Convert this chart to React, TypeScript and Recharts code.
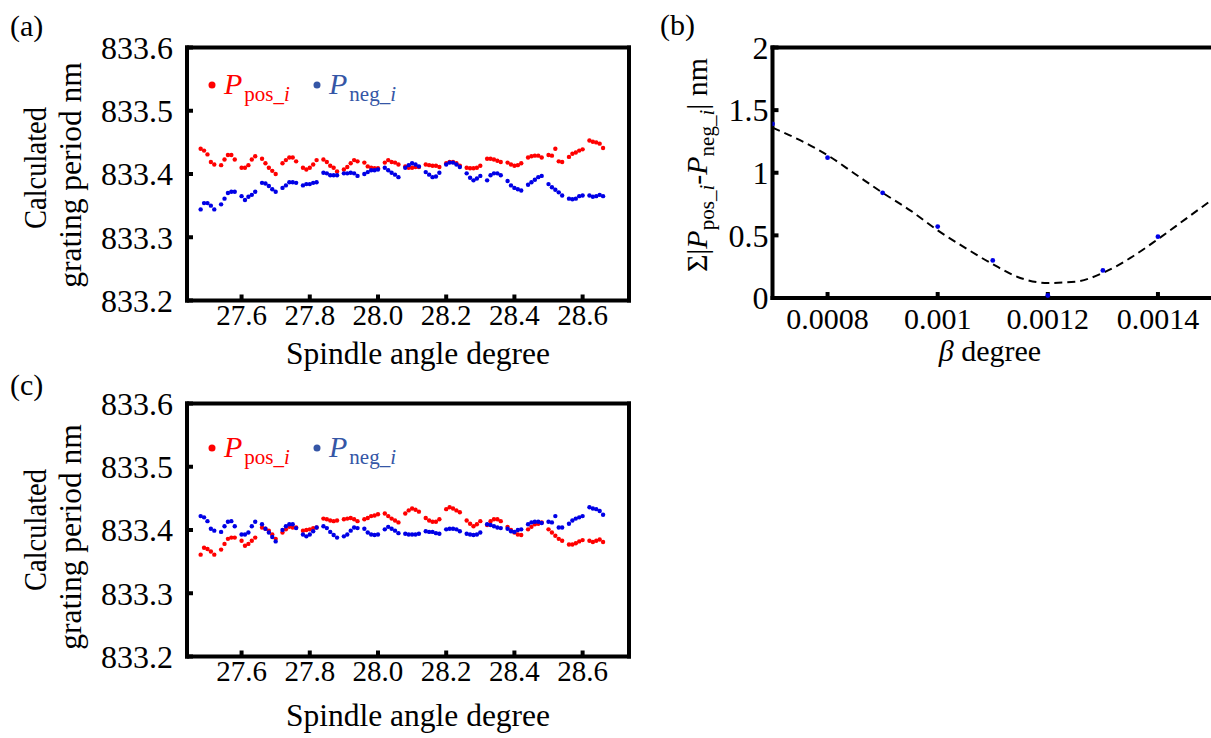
import {
  ScatterChart,
  ComposedChart,
  Scatter,
  Line,
  XAxis,
  YAxis,
} from 'recharts';

// spindle angle (deg), groups of five readings
const angles = [
  27.48, 27.49, 27.5, 27.51, 27.52, 27.54, 27.55, 27.56, 27.57, 27.58,
  27.6, 27.61, 27.62, 27.63, 27.64, 27.66, 27.67, 27.68, 27.69, 27.7,
  27.72, 27.73, 27.74, 27.75, 27.76, 27.78, 27.79, 27.8, 27.81, 27.82,
  27.84, 27.85, 27.86, 27.87, 27.88, 27.9, 27.91, 27.92, 27.93, 27.94,
  27.96, 27.97, 27.98, 27.99, 28.0, 28.02, 28.03, 28.04, 28.05, 28.06,
  28.08, 28.09, 28.1, 28.11, 28.12, 28.14, 28.15, 28.16, 28.17, 28.18,
  28.2, 28.21, 28.22, 28.23, 28.24, 28.26, 28.27, 28.28, 28.29, 28.3,
  28.32, 28.33, 28.34, 28.35, 28.36, 28.38, 28.39, 28.4, 28.41, 28.42,
  28.44, 28.45, 28.46, 28.47, 28.48, 28.5, 28.51, 28.52, 28.53, 28.54,
  28.56, 28.57, 28.58, 28.59, 28.6, 28.62, 28.63, 28.64, 28.65, 28.66,
];

// (a) before correction
const posA = [
  833.44, 833.437, 833.431, 833.419, 833.415, 833.414, 833.423, 833.43, 833.43, 833.423,
  833.41, 833.41, 833.414, 833.423, 833.428, 833.424, 833.417, 833.41, 833.405, 833.4,
  833.417, 833.422, 833.426, 833.426, 833.42, 833.41, 833.407, 833.41, 833.415, 833.422,
  833.423, 833.419, 833.413, 833.41, 833.404, 833.407, 833.411, 833.417, 833.422, 833.42,
  833.418, 833.412, 833.41, 833.409, 833.409, 833.418, 833.422, 833.419, 833.418, 833.415,
  833.412, 833.41, 833.41, 833.411, 833.411, 833.415, 833.414, 833.413, 833.413, 833.411,
  833.417, 833.419, 833.419, 833.417, 833.413, 833.41, 833.409, 833.409, 833.41, 833.413,
  833.424, 833.424, 833.423, 833.421, 833.419, 833.418, 833.415, 833.413, 833.414, 833.417,
  833.426, 833.428, 833.429, 833.429, 833.426, 833.43, 833.429, 833.44, 833.42, 833.419,
  833.427, 833.432, 833.434, 833.437, 833.439, 833.453, 833.451, 833.45, 833.448, 833.441,
];
const negA = [
  833.344, 833.354, 833.354, 833.35, 833.344, 833.352, 833.361, 833.37, 833.372, 833.372,
  833.365, 833.359, 833.364, 833.367, 833.372, 833.386, 833.385, 833.381, 833.376, 833.372,
  833.378, 833.382, 833.387, 833.387, 833.386, 833.382, 833.384, 833.384, 833.386, 833.387,
  833.402, 833.401, 833.398, 833.398, 833.398, 833.401, 833.401, 833.402, 833.401, 833.397,
  833.4, 833.403, 833.406, 833.406, 833.407, 833.41, 833.406, 833.402, 833.399, 833.395,
  833.41, 833.414, 833.417, 833.415, 833.412, 833.403, 833.399, 833.395, 833.396, 833.402,
  833.415, 833.418, 833.418, 833.415, 833.411, 833.401, 833.394, 833.39, 833.393, 833.397,
  833.39, 833.398, 833.401, 833.401, 833.398, 833.389, 833.382, 833.378, 833.376, 833.374,
  833.383, 833.387, 833.391, 833.395, 833.397, 833.384, 833.379, 833.375, 833.371, 833.366,
  833.361, 833.36, 833.361, 833.365, 833.366, 833.366, 833.364, 833.365, 833.367, 833.365,
];

// (c) after correction
const posC = [
  833.361, 833.372, 833.37, 833.366, 833.361, 833.369, 833.378, 833.386, 833.388, 833.388,
  833.383, 833.375, 833.378, 833.383, 833.388, 833.404, 833.402, 833.399, 833.393, 833.386,
  833.396, 833.401, 833.405, 833.404, 833.404, 833.399, 833.4, 833.401, 833.403, 833.404,
  833.418, 833.417, 833.415, 833.414, 833.415, 833.417, 833.418, 833.419, 833.417, 833.414,
  833.417, 833.419, 833.422, 833.423, 833.425, 833.426, 833.422, 833.418, 833.415, 833.412,
  833.426, 833.431, 833.434, 833.432, 833.429, 833.419, 833.415, 833.413, 833.413, 833.417,
  833.433, 833.436, 833.434, 833.431, 833.428, 833.415, 833.41, 833.406, 833.409, 833.414,
  833.408, 833.414, 833.417, 833.417, 833.414, 833.405, 833.4, 833.396, 833.393, 833.392,
  833.401, 833.405, 833.409, 833.41, 833.412, 833.401, 833.396, 833.391, 833.386, 833.383,
  833.377, 833.377, 833.379, 833.382, 833.384, 833.383, 833.381, 833.383, 833.385, 833.381,
];
const negC = [
  833.422, 833.42, 833.414, 833.402, 833.399, 833.397, 833.406, 833.413, 833.414, 833.406,
  833.393, 833.393, 833.396, 833.406, 833.413, 833.409, 833.402, 833.396, 833.389, 833.382,
  833.4, 833.406, 833.409, 833.409, 833.403, 833.393, 833.39, 833.393, 833.398, 833.404,
  833.406, 833.403, 833.397, 833.392, 833.388, 833.39, 833.393, 833.399, 833.404, 833.403,
  833.402, 833.396, 833.393, 833.392, 833.393, 833.401, 833.405, 833.402, 833.399, 833.395,
  833.394, 833.393, 833.393, 833.393, 833.394, 833.398, 833.397, 833.397, 833.395, 833.394,
  833.401, 833.402, 833.402, 833.401, 833.398, 833.394, 833.393, 833.392, 833.393, 833.396,
  833.409, 833.408, 833.406, 833.404, 833.403, 833.402, 833.398, 833.397, 833.4, 833.401,
  833.409, 833.412, 833.413, 833.413, 833.411, 833.413, 833.412, 833.422, 833.404, 833.404,
  833.41, 833.415, 833.418, 833.42, 833.422, 833.436, 833.434, 833.433, 833.43, 833.424,
];

const angleTicks = [27.6, 27.8, 28.0, 28.2, 28.4, 28.6];
const periodTicks = [833.2, 833.3, 833.4, 833.5, 833.6];

// (b) sum of differences vs beta
const betas = [0.0007, 0.0008, 0.0009, 0.001, 0.0011, 0.0012, 0.0013, 0.0014];
const sums = [1.39, 1.12, 0.84, 0.57, 0.3, 0.02, 0.22, 0.49];
const fitBetas = [
  0.0007, 0.00075, 0.0008, 0.00085, 0.0009, 0.00095, 0.001, 0.00105, 0.0011,
  0.00115, 0.0012, 0.00125, 0.0013, 0.00135, 0.0014, 0.00145, 0.0015,
];
const fitSums = [
  1.36, 1.26, 1.14, 0.99, 0.84, 0.7, 0.54, 0.4, 0.27, 0.16, 0.12, 0.13, 0.2,
  0.32, 0.47, 0.63, 0.79,
];
const betaTicks = [0.0008, 0.001, 0.0012, 0.0014];
const sumTicks = [0, 0.5, 1, 1.5, 2];

const FONT = 'Liberation Serif';
const RED = '#ff0000';
const BLUE = '#0000e6';
const LEGEND_BLUE = '#3556a6';

const axisLine = { stroke: '#000', strokeWidth: 4, strokeLinecap: 'square' as const };
const tickLine = { stroke: '#000', strokeWidth: 4 };

const dot = (color: string, r = 2.2) => (props: any) => (
  <circle cx={props.cx} cy={props.cy} r={r} fill={color} />
);

// axes need a non-zero size to render, so each takes 1px out of the margin
function PeriodPanel({ top, pos, neg }: { top: number; pos: number[]; neg: number[] }) {
  const posData = angles.map((x, i) => ({ x, y: pos[i] }));
  const negData = angles.map((x, i) => ({ x, y: neg[i] }));
  const xDomain = [27.44, 28.736];
  const yDomain = [833.2, 833.6];
  return (
    <div style={{ position: 'absolute', left: 0, top, width: 660, height: 380 }}>
      <ScatterChart width={660} height={380} margin={{ top: 46.5, right: 30, bottom: 78.5, left: 186 }}>
        <XAxis
          type="number"
          dataKey="x"
          domain={xDomain}
          allowDataOverflow
          ticks={angleTicks}
          tickFormatter={(v: number) => v.toFixed(1)}
          tick={{ fontSize: 29, fill: '#000', fontFamily: FONT }}
          height={1}
          tickSize={-6}
          tickMargin={10}
          axisLine={axisLine}
          tickLine={tickLine}
        />
        <XAxis
          xAxisId="top"
          orientation="top"
          type="number"
          domain={xDomain}
          allowDataOverflow
          ticks={angleTicks}
          tick={false}
          height={1}
          tickSize={-6}
          axisLine={axisLine}
          tickLine={tickLine}
        />
        <YAxis
          type="number"
          dataKey="y"
          domain={yDomain}
          allowDataOverflow
          ticks={periodTicks}
          tickFormatter={(v: number) => v.toFixed(1)}
          tick={{ fontSize: 32, fill: '#000', fontFamily: FONT }}
          width={1}
          tickSize={-6}
          tickMargin={20}
          axisLine={axisLine}
          tickLine={tickLine}
        />
        <YAxis
          yAxisId="right"
          orientation="right"
          type="number"
          domain={yDomain}
          allowDataOverflow
          ticks={periodTicks}
          tick={false}
          width={1}
          tickSize={-6}
          axisLine={axisLine}
          tickLine={tickLine}
        />
        <Scatter data={posData} fill={RED} shape={dot(RED)} isAnimationActive={false} />
        <Scatter data={negData} fill={BLUE} shape={dot(BLUE)} isAnimationActive={false} />
      </ScatterChart>
    </div>
  );
}

function BetaPanel() {
  const points = betas.map((x, i) => ({ x, y: sums[i] }));
  const fit = fitBetas.map((x, i) => ({ x, y: fitSums[i] }));
  const xDomain = [0.0007, 0.0015];
  const yDomain = [0, 2];
  return (
    <div style={{ position: 'absolute', left: 640, top: 0, width: 600, height: 380 }}>
      <ComposedChart width={600} height={380} margin={{ top: 46.5, right: 26, bottom: 81, left: 131.5 }}>
        <XAxis
          type="number"
          dataKey="x"
          domain={xDomain}
          allowDataOverflow
          ticks={betaTicks}
          tickFormatter={(v: number) => String(v)}
          tick={{ fontSize: 30, fill: '#000', fontFamily: FONT }}
          height={1}
          tickSize={-6}
          tickMargin={16}
          axisLine={axisLine}
          tickLine={tickLine}
        />
        <XAxis
          xAxisId="top"
          orientation="top"
          type="number"
          domain={xDomain}
          allowDataOverflow
          ticks={betaTicks}
          tick={false}
          height={1}
          tickSize={-6}
          axisLine={axisLine}
          tickLine={tickLine}
        />
        <YAxis
          type="number"
          dataKey="y"
          domain={yDomain}
          allowDataOverflow
          ticks={sumTicks}
          tickFormatter={(v: number) => String(v)}
          tick={{ fontSize: 32, fill: '#000', fontFamily: FONT }}
          width={1}
          tickSize={-6}
          tickMargin={10}
          axisLine={axisLine}
          tickLine={tickLine}
        />
        <YAxis
          yAxisId="right"
          orientation="right"
          type="number"
          domain={yDomain}
          allowDataOverflow
          ticks={sumTicks}
          tick={false}
          width={1}
          tickSize={-6}
          axisLine={axisLine}
          tickLine={tickLine}
        />
        <Line
          data={fit}
          dataKey="y"
          type="monotone"
          stroke="#000"
          strokeWidth={2}
          strokeDasharray="8 5"
          dot={false}
          isAnimationActive={false}
        />
        <Scatter data={points} dataKey="y" fill={BLUE} shape={dot(BLUE, 2.4)} isAnimationActive={false} />
      </ComposedChart>
    </div>
  );
}

function PLegend({ dy }: { dy: number }) {
  return (
    <g transform={`translate(0 ${dy})`}>
      <circle cx={212} cy={85} r={3.5} fill={RED} />
      <text x={224} y={94} fontSize={30} fill={RED}>
        <tspan fontStyle="italic">P</tspan>
        <tspan fontSize={21} dx={2} dy={7}>pos_</tspan>
        <tspan fontSize={21} fontStyle="italic">i</tspan>
      </text>
      <circle cx={317} cy={85} r={3.5} fill={LEGEND_BLUE} />
      <text x={329} y={94} fontSize={30} fill={LEGEND_BLUE}>
        <tspan fontStyle="italic">P</tspan>
        <tspan fontSize={21} dx={2} dy={7}>neg_</tspan>
        <tspan fontSize={21} fontStyle="italic">i</tspan>
      </text>
    </g>
  );
}

function PeriodTitles({ dy }: { dy: number }) {
  return (
    <g transform={`translate(0 ${dy})`}>
      <text
        x={46}
        y={168}
        fontSize={31}
        textAnchor="middle"
        textLength={122}
        lengthAdjust="spacingAndGlyphs"
        transform="rotate(-90 46 168)"
      >
        Calculated
      </text>
      <text x={81} y={175} fontSize={31.5} textAnchor="middle" transform="rotate(-90 81 175)">
        grating period nm
      </text>
    </g>
  );
}

export default function App() {
  return (
    <div
      style={{
        position: 'absolute',
        left: 0,
        top: 0,
        width: 1211,
        height: 738,
        overflow: 'hidden',
        background: '#fff',
        fontFamily: FONT,
      }}
    >
      <PeriodPanel top={0} pos={posA} neg={negA} />
      <PeriodPanel top={356} pos={posC} neg={negC} />
      <BetaPanel />
      <svg
        width={1211}
        height={738}
        style={{ position: 'absolute', left: 0, top: 0, pointerEvents: 'none' }}
        fontFamily={FONT}
      >
        <text x={10} y={36} fontSize={30}>(a)</text>
        <text x={660} y={35} fontSize={30}>(b)</text>
        <text x={10} y={395} fontSize={30}>(c)</text>

        <PeriodTitles dy={0} />
        <PeriodTitles dy={362} />
        <text x={418} y={364} fontSize={31.5} textAnchor="middle">Spindle angle degree</text>
        <text x={418} y={726} fontSize={31.5} textAnchor="middle">Spindle angle degree</text>

        <PLegend dy={0} />
        <PLegend dy={363} />

        <text x={707} y={165} fontSize={30} textAnchor="middle" transform="rotate(-90 707 165)">
          <tspan>Σ|</tspan>
          <tspan fontStyle="italic">P</tspan>
          <tspan fontSize={21} dy={7}>pos_</tspan>
          <tspan fontSize={21} fontStyle="italic">i</tspan>
          <tspan dy={-7}>-</tspan>
          <tspan fontStyle="italic">P</tspan>
          <tspan fontSize={21} dy={7}>neg_</tspan>
          <tspan fontSize={21} fontStyle="italic">i</tspan>
          <tspan dy={-7}>| nm</tspan>
        </text>
        <text x={990} y={361} fontSize={30} textAnchor="middle">
          <tspan fontStyle="italic">β</tspan>
          <tspan> degree</tspan>
        </text>
      </svg>
    </div>
  );
}
